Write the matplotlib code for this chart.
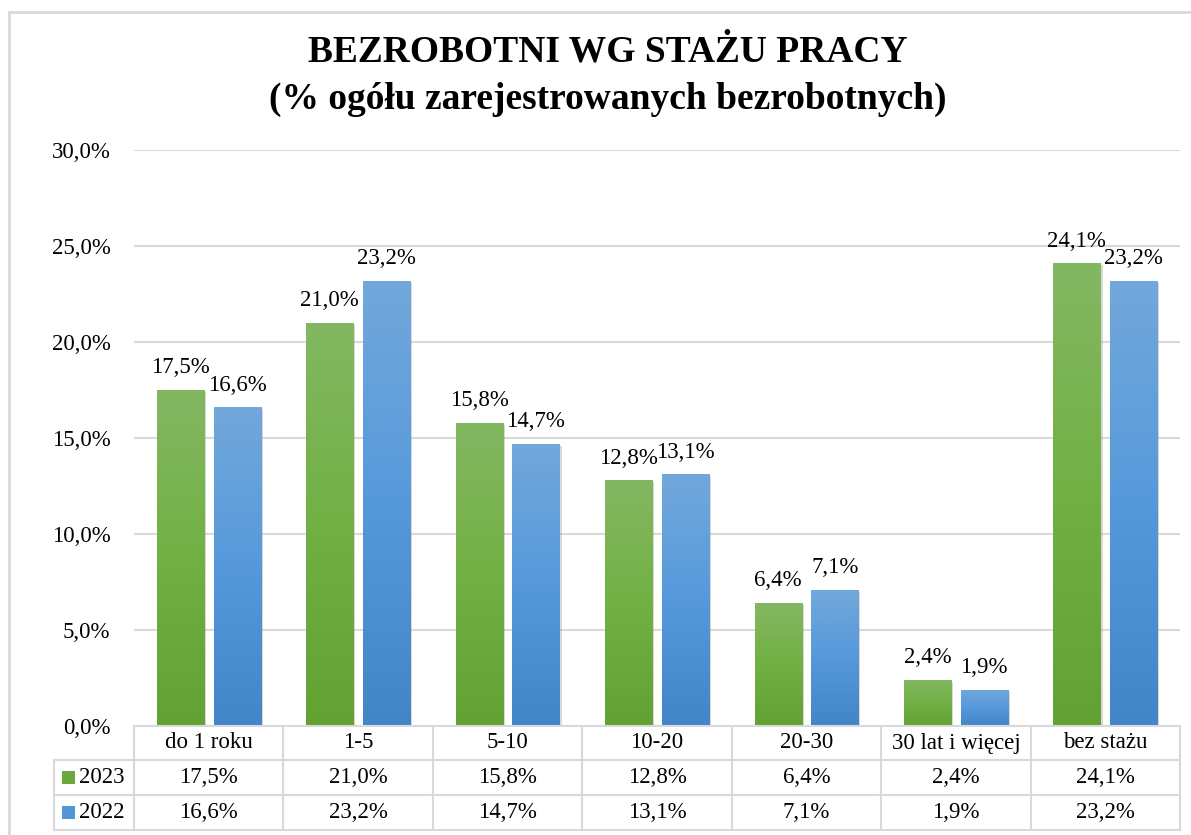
import matplotlib
matplotlib.use("Agg")
import matplotlib.pyplot as plt
import numpy as np
from matplotlib.colors import LinearSegmentedColormap
from matplotlib.transforms import blended_transform_factory
from matplotlib.patches import Rectangle
import matplotlib.patheffects as pe
from matplotlib.lines import Line2D

plt.rcParams['font.family'] = ['Liberation Serif', 'DejaVu Serif']

categories = ["do 1 roku", "1-5", "5-10", "10-20", "20-30", "30 lat i więcej", "bez stażu"]
series_names = ["2023", "2022"]
values_2023 = [17.5, 21.0, 15.8, 12.8, 6.4, 2.4, 24.1]
values_2022 = [16.6, 23.2, 14.7, 13.1, 7.1, 1.9, 23.2]
yticks = [0, 5, 10, 15, 20, 25, 30]

FS = 16.5
W, H = 1191, 835
fig = plt.figure(figsize=(W / 100, H / 100), dpi=100)

# outer chart border
fig.add_artist(Line2D([9 / W, 9 / W], [0, 1 - 12 / H], color='#d9d9d9', lw=2, transform=fig.transFigure))
fig.add_artist(Line2D([9 / W, 1], [1 - 12 / H, 1 - 12 / H], color='#d9d9d9', lw=2, transform=fig.transFigure))

ax_left, ax_right, ax_top, ax_bottom = 134, 1180, 150, 726
ax = fig.add_axes([ax_left / W, 1 - ax_bottom / H, (ax_right - ax_left) / W, (ax_bottom - ax_top) / H])

fig.text(608 / W, 1 - 62 / H, "BEZROBOTNI WG STAŻU PRACY", ha='center', va='baseline',
         fontsize=27, fontweight='bold')
fig.text(608 / W, 1 - 109 / H, "(% ogółu zarejestrowanych bezrobotnych)", ha='center', va='baseline',
         fontsize=27, fontweight='bold')

x = np.arange(len(categories))
bw = 0.315
off = 0.19

green_cmap = LinearSegmentedColormap.from_list('g', ['#63a133', '#72b044', '#83b862'])
blue_cmap = LinearSegmentedColormap.from_list('b', ['#4286c8', '#5699db', '#72a8db'])
grad = np.linspace(0, 1, 256).reshape(-1, 1)

for vals, sign, cmap, base in [(values_2023, -1, green_cmap, '#6aa93c'),
                               (values_2022, 1, blue_cmap, '#5197d6')]:
    bars = ax.bar(x + sign * off, vals, width=bw, color=base, zorder=3,
                  path_effects=[pe.SimplePatchShadow(offset=(1.5, -1.5), shadow_rgbFace='#909090', alpha=0.35),
                                pe.Normal()])
    for b, v in zip(bars, vals):
        x0 = b.get_x()
        im = ax.imshow(grad, cmap=cmap, origin='lower', aspect='auto',
                       extent=[x0, x0 + b.get_width(), 0, v], zorder=4)
        im.set_clip_path(b)
        ax.annotate(f"{v:.1f}%".replace('.', ','), (b.get_x() + b.get_width() / 2, v),
                    xytext=(0, 12), textcoords='offset points', ha='center', va='baseline',
                    fontsize=FS, zorder=5)

ax.set_xlim(-0.5, len(categories) - 0.5)
ax.set_ylim(0, 30)
ax.set_yticks(yticks)
ax.set_yticklabels([f"{t:.1f}%".replace('.', ',') for t in yticks], fontsize=FS)
ax.tick_params(axis='y', length=0, pad=17)
ax.set_xticks([])
for s in ax.spines.values():
    s.set_visible(False)
ax.yaxis.grid(True, color='#d9d9d9', lw=1.5, zorder=0)
ax.set_axisbelow(True)

# data table below the axes
tr = blended_transform_factory(ax.transData, ax.transAxes)
ppx = 1.0 / (ax_bottom - ax_top)  # axes fraction per pixel
y_rows = [0, -34 * ppx, -69 * ppx, -104 * ppx]
lc = '#d9d9d9'
lw = 1.5
x_left_data = -0.5
x_right_data = len(categories) - 0.5
cat_w_px = (ax_right - ax_left) / len(categories)
leg_left = x_left_data - (ax_left - 54) / cat_w_px

def hline(xa, xb, y):
    ax.add_line(Line2D([xa, xb], [y, y], transform=tr, color=lc, lw=lw, clip_on=False, zorder=6))

def vline(xv, ya, yb):
    ax.add_line(Line2D([xv, xv], [ya, yb], transform=tr, color=lc, lw=lw, clip_on=False, zorder=6))

hline(x_left_data, x_right_data, y_rows[0])
for yy in y_rows[1:]:
    hline(leg_left, x_right_data, yy)
vline(leg_left, y_rows[1], y_rows[3])
for k in range(len(categories) + 1):
    vline(x_left_data + k, y_rows[0], y_rows[3])

for i, c in enumerate(categories):
    ax.text(i, (y_rows[0] + y_rows[1]) / 2, c, transform=tr, ha='center', va='center', fontsize=FS)

leg_colors = ['#6aa93c', '#5197d6']
for r, (name, vals, col) in enumerate(zip(series_names, [values_2023, values_2022], leg_colors)):
    yc = (y_rows[r + 1] + y_rows[r + 2]) / 2
    for i, v in enumerate(vals):
        ax.text(i, yc, f"{v:.1f}%".replace('.', ','), transform=tr, ha='center', va='center', fontsize=FS)
    sq = 13 * ppx
    sq_x = leg_left + 8 / cat_w_px
    ax.add_patch(Rectangle((sq_x, yc - sq / 2), 13 / cat_w_px, sq, transform=tr,
                           facecolor=col, edgecolor='none', clip_on=False))
    ax.text(leg_left + 25 / cat_w_px, yc, name, transform=tr, ha='left', va='center', fontsize=FS)

fig.savefig("out.png", dpi=100)
